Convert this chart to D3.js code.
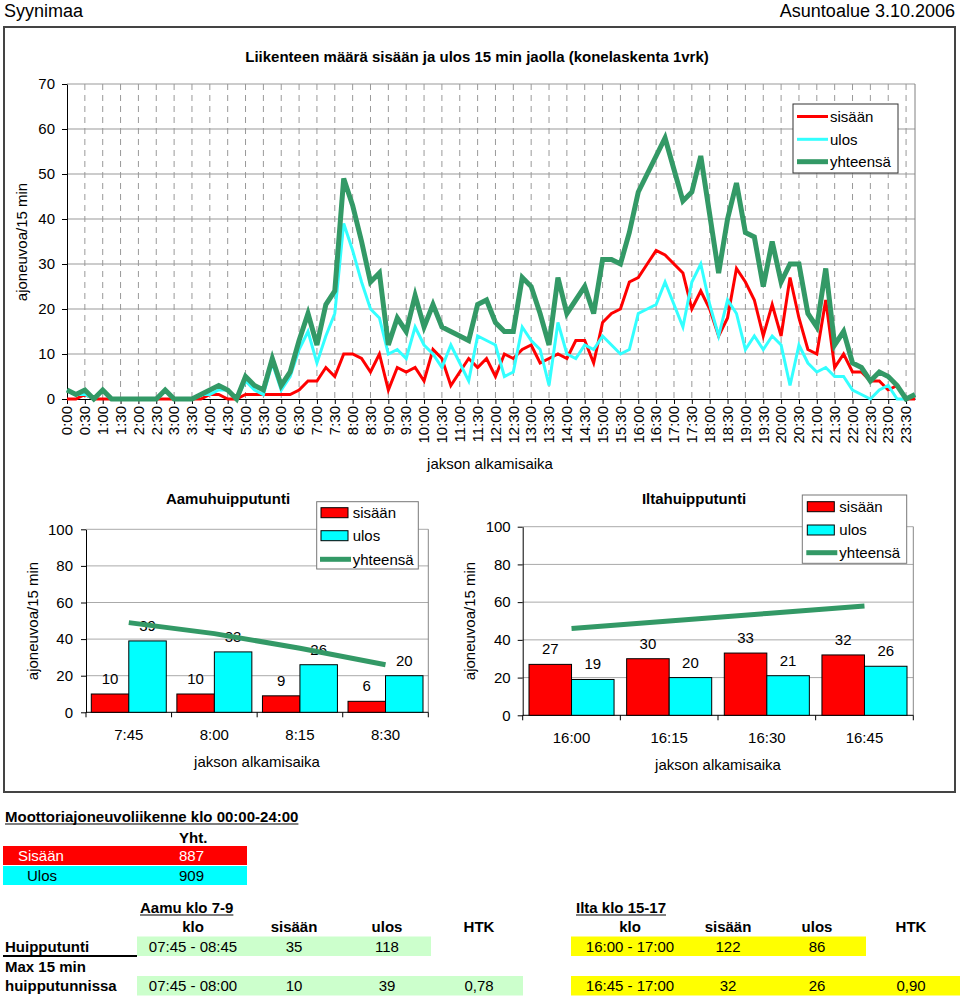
<!DOCTYPE html>
<html><head><meta charset="utf-8">
<script src="https://cdn.jsdelivr.net/npm/d3@7"></script>
<style>
body{margin:0;background:#fff}
svg{display:block}
text{font-family:"Liberation Sans",Arial,sans-serif;fill:#000}
</style>
</head><body>
<svg id="c" width="960" height="1000"></svg>
<script>
// ---------- DATA ----------
const times = ["0:00","0:15","0:30","0:45","1:00","1:15","1:30","1:45","2:00","2:15","2:30","2:45","3:00","3:15","3:30","3:45","4:00","4:15","4:30","4:45","5:00","5:15","5:30","5:45","6:00","6:15","6:30","6:45","7:00","7:15","7:30","7:45","8:00","8:15","8:30","8:45","9:00","9:15","9:30","9:45","10:00","10:15","10:30","10:45","11:00","11:15","11:30","11:45","12:00","12:15","12:30","12:45","13:00","13:15","13:30","13:45","14:00","14:15","14:30","14:45","15:00","15:15","15:30","15:45","16:00","16:15","16:30","16:45","17:00","17:15","17:30","17:45","18:00","18:15","18:30","18:45","19:00","19:15","19:30","19:45","20:00","20:15","20:30","20:45","21:00","21:15","21:30","21:45","22:00","22:15","22:30","22:45","23:00","23:15","23:30","23:45"];
const sisaan = [0,0,1,0,0,0,0,0,0,0,0,0,0,0,0,0,1,1,0,0, 1,1,1,1,1,1,2,4,4,7,5, 10,10,9,6,10,2, 7,6,7,4,11,9,3,6,9,7,9,5,10,9,11,12,8,9,10,9, 13,13,8,17,19,20,26, 27,30,33,32, 30,28,20,24,20,14,18,29, 26,22,14,21,14,27,18,11,10,22,7,10,6,6,4,4,2,3,0,0];
const ulos = [2,1,1,0,2,0,0,0,0,0,0,2,0,0,0,1,1,2,2,0, 4,2,1,8,2,5,11,15,8,14,19, 39,33,26,20,18,10, 11,9,16,12,10,7,12,8,4,14,13,12,5,6,16,13,11,3,17,10, 9,12,11,14,12,10,11, 19,20,21,26, 21,16,26,30,21,14,22,19, 11,14,11,14,12,3,12,8,6,7,5,5,2,1,0,2,3,0,0,1];
const yhteensa = [2,1,2,0,2,0,0,0,0,0,0,2,0,0,0,1,2,3,2,0, 5,3,2,9,3,6,13,19,12,21,24, 49,43,35,26,28,12, 18,15,23,16,21,16,15,14,13,21,22,17,15,15,27,25,19,12,27,19, 22,25,19,31,31,30,37, 46,50,54,58, 51,44,46,54,41,28,40,48, 37,36,25,35,26,30,30,19,16,29,12,15,8,7,4,6,5,3,0,1];
const mainYTicks = [0,10,20,30,40,50,60,70];

const amCats = ["7:45","8:00","8:15","8:30"];
const amSisaan = [10,10,9,6];
const amUlos = [39,33,26,20];
const amYht = [49,43,35,26];
const pmCats = ["16:00","16:15","16:30","16:45"];
const pmSisaan = [27,30,33,32];
const pmUlos = [19,20,21,26];
const pmYht = [46,50,54,58];
const barYTicks = [0,20,40,60,80,100];

const seriesNames = ["sisään","ulos","yhteensä"];
const totalLabels = ["Sisään","Ulos"];
const totalValues = ["887","909"];
const tableHeaders = ["klo","sisään","ulos","HTK"];
const amPeak = ["07:45 - 08:45","35","118",""];
const amMax = ["07:45 - 08:00","10","39","0,78"];
const pmPeak = ["16:00 - 17:00","122","86",""];
const pmMax = ["16:45 - 17:00","32","26","0,90"];

// ---------- STYLE ----------
const RED = "#ff0000", CYAN = "#00ffff", LCYAN = "#33ffff", GREEN = "#339966";
const FONT = 15;
const svg = d3.select("#c");

// header
svg.append("text").attr("x",4).attr("y",17).attr("font-size",18).text("Syynimaa");
svg.append("text").attr("x",955).attr("y",17).attr("font-size",18).attr("text-anchor","end").text("Asuntoalue 3.10.2006");

// outer frame
svg.append("rect").attr("x",4).attr("y",27).attr("width",951).attr("height",765)
  .attr("fill","none").attr("stroke","#444").attr("stroke-width",2);

// ---------- MAIN LINE CHART ----------
const L = {left:67,right:915,top:84,bottom:399};
const x = d3.scalePoint().domain(times).range([L.left,L.right]);
const y = d3.scaleLinear().domain([0,70]).range([L.bottom,L.top]);
const g = svg.append("g");

g.append("text").attr("x",477).attr("y",62).attr("text-anchor","middle")
  .attr("font-size",FONT).attr("font-weight","bold")
  .text("Liikenteen määrä sisään ja ulos 15 min jaolla (konelaskenta 1vrk)");

// horizontal grid
g.selectAll(".hg").data(mainYTicks.filter(d=>d>0)).join("line")
  .attr("x1",L.left).attr("x2",L.right).attr("y1",d=>y(d)).attr("y2",d=>y(d))
  .attr("stroke","#999").attr("stroke-width",1);
// vertical dashed grid
const halfHours = times.filter((t,i)=>i%2===0);
g.selectAll(".vg").data(halfHours.slice(1)).join("line")
  .attr("x1",d=>x(d)).attr("x2",d=>x(d)).attr("y1",L.top).attr("y2",L.bottom)
  .attr("stroke","#999").attr("stroke-dasharray","6,5").attr("stroke-width",1);
// right border
g.append("line").attr("x1",L.right).attr("x2",L.right).attr("y1",L.top).attr("y2",L.bottom)
  .attr("stroke","#808080");

// axes
const ya = g.append("g").attr("transform",`translate(${L.left},0)`)
  .call(d3.axisLeft(y).tickValues(mainYTicks).tickSize(5).tickPadding(7).tickSizeOuter(0));
ya.selectAll("text").attr("font-size",FONT).attr("font-family","Liberation Sans, Arial, sans-serif");
ya.select(".domain").attr("stroke","#000");
const xa = g.append("g").attr("transform",`translate(0,${L.bottom})`)
  .call(d3.axisBottom(x).tickValues(halfHours).tickSize(5).tickFormat("").tickSizeOuter(0));
xa.select(".domain").attr("stroke","#000");
g.selectAll(".xl").data(halfHours).join("text")
  .attr("transform",d=>`translate(${x(d)},${L.bottom+7}) rotate(-90)`)
  .attr("text-anchor","end").attr("dy","0.35em").attr("font-size",FONT).text(d=>d);

g.append("text").attr("transform","translate(22,242) rotate(-90)").attr("text-anchor","middle")
  .attr("dy","0.35em").attr("font-size",FONT).text("ajoneuvoa/15 min");
g.append("text").attr("x",490).attr("y",469).attr("text-anchor","middle").attr("font-size",FONT)
  .text("jakson alkamisaika");

// lines
const line = d3.line().x((d,i)=>x(times[i])).y(d=>y(d));
g.append("path").datum(sisaan).attr("d",line).attr("fill","none").attr("stroke",RED).attr("stroke-width",3);
g.append("path").datum(ulos).attr("d",line).attr("fill","none").attr("stroke",LCYAN).attr("stroke-width",3);
g.append("path").datum(yhteensa).attr("d",line).attr("fill","none").attr("stroke",GREEN).attr("stroke-width",5);

// legend
const lg = g.append("g");
lg.append("rect").attr("x",793).attr("y",104).attr("width",105).attr("height",69)
  .attr("fill","#fff").attr("stroke","#333");
const lcolors = [RED,LCYAN,GREEN], lwidths=[3,3,5], ly=[116.5,139.3,161.7];
seriesNames.forEach((n,i)=>{
  lg.append("line").attr("x1",797).attr("x2",828).attr("y1",ly[i]).attr("y2",ly[i])
    .attr("stroke",lcolors[i]).attr("stroke-width",lwidths[i]);
  lg.append("text").attr("x",830).attr("y",ly[i]).attr("dy","0.35em").attr("font-size",FONT).text(n);
});

// ---------- BAR CHARTS ----------
function barChart(o){
  const gg = svg.append("g");
  const xb = d3.scaleBand().domain(o.cats).range([o.left,o.right]);
  const xs = d3.scaleBand().domain(["s","u"]).range([o.margin, xb.bandwidth()-o.margin]);
  const yb = d3.scaleLinear().domain([0,100]).range([o.bottom,o.top]);
  gg.append("text").attr("x",o.titleX).attr("y",504).attr("text-anchor","middle")
    .attr("font-size",FONT).attr("font-weight","bold").text(o.title);
  gg.selectAll(".g").data(barYTicks.filter(d=>d>0)).join("line")
    .attr("x1",o.left).attr("x2",o.right).attr("y1",d=>yb(d)).attr("y2",d=>yb(d))
    .attr("stroke","#aaa");
  gg.append("line").attr("x1",o.right).attr("x2",o.right).attr("y1",o.top).attr("y2",o.bottom).attr("stroke","#888");
  const ay = gg.append("g").attr("transform",`translate(${o.left},0)`)
    .call(d3.axisLeft(yb).tickValues(barYTicks).tickSize(5).tickPadding(o.pad).tickSizeOuter(0));
  ay.selectAll("text").attr("font-size",FONT).attr("font-family","Liberation Sans, Arial, sans-serif");
  ay.select(".domain").attr("stroke","#000");
  // x axis
  gg.append("line").attr("x1",o.left).attr("x2",o.right).attr("y1",o.bottom).attr("y2",o.bottom).attr("stroke","#000");
  const bounds = o.cats.map(c=>xb(c)).concat([o.right]);
  gg.selectAll(".xt").data(bounds).join("line")
    .attr("x1",d=>d).attr("x2",d=>d).attr("y1",o.bottom).attr("y2",o.bottom+5).attr("stroke","#000");
  gg.selectAll(".xl").data(o.cats).join("text")
    .attr("x",d=>xb(d)+xb.bandwidth()/2).attr("y",o.bottom+28).attr("text-anchor","middle")
    .attr("font-size",FONT).text(d=>d);
  // bars
  o.cats.forEach((c,i)=>{
    [["s",o.s[i],RED],["u",o.u[i],CYAN]].forEach(([k,v,col])=>{
      const bx = xb(c)+xs(k);
      gg.append("rect").attr("x",bx).attr("y",yb(v)).attr("width",xs.bandwidth())
        .attr("height",o.bottom-yb(v)).attr("fill",col).attr("stroke","#000").attr("stroke-width",1);
      gg.append("text").attr("x",bx+xs.bandwidth()/2).attr("y",yb(v)-10)
        .attr("text-anchor","middle").attr("font-size",FONT).text(v);
    });
  });
  const tl = d3.line().x((d,i)=>xb(o.cats[i])+xb.bandwidth()/2).y(d=>yb(d));
  gg.append("path").datum(o.t).attr("d",tl).attr("fill","none").attr("stroke",GREEN).attr("stroke-width",5);
  // titles
  gg.append("text").attr("transform",`translate(${o.yTitleX},621) rotate(-90)`).attr("text-anchor","middle")
    .attr("dy","0.35em").attr("font-size",FONT).text("ajoneuvoa/15 min");
  gg.append("text").attr("x",o.xTitleX).attr("y",o.bottom+55).attr("text-anchor","middle")
    .attr("font-size",FONT).text("jakson alkamisaika");
  // legend
  const lb = o.leg;
  gg.append("rect").attr("x",lb.x).attr("y",lb.y).attr("width",lb.w).attr("height",lb.h)
    .attr("fill","#fff").attr("stroke","#777");
  const sw = [RED,CYAN];
  [0,1].forEach(i=>{
    gg.append("rect").attr("x",lb.sx).attr("y",lb.ys[i]-5).attr("width",27).attr("height",10)
      .attr("fill",sw[i]).attr("stroke","#000");
  });
  gg.append("line").attr("x1",lb.sx-1).attr("x2",lb.sx+30).attr("y1",lb.ys[2]).attr("y2",lb.ys[2])
    .attr("stroke",GREEN).attr("stroke-width",5);
  seriesNames.forEach((n,i)=>{
    gg.append("text").attr("x",lb.tx).attr("y",lb.ys[i]).attr("dy","0.35em").attr("font-size",FONT).text(n);
  });
}
barChart({cats:amCats,s:amSisaan,u:amUlos,t:amYht,title:"Aamuhuipputunti",titleX:228,
  left:86,right:428.3,top:529.3,bottom:712.3,margin:5.3,pad:8,yTitleX:33,xTitleX:257,
  leg:{x:316.7,y:501.7,w:101.6,h:67.3,sx:321,tx:352.7,ys:[512.7,535.7,559.3]}});
barChart({cats:pmCats,s:pmSisaan,u:pmUlos,t:pmYht,title:"Iltahuipputunti",titleX:694,
  left:522.7,right:913.3,top:526.7,bottom:715.3,margin:6.3,pad:7,yTitleX:470,xTitleX:718,
  leg:{x:802.3,y:495,w:104.4,h:68.3,sx:807.3,tx:839.3,ys:[506.7,530,552.7]}});

// ---------- TABLES ----------
const tg = svg.append("g");
function txt(xp,yp,s,opt={}){
  const t = tg.append("text").attr("x",xp).attr("y",yp).attr("font-size",FONT).text(s);
  if(opt.bold) t.attr("font-weight","bold");
  if(opt.anchor) t.attr("text-anchor",opt.anchor);
  if(opt.fill) t.style("fill",opt.fill);
  if(opt.under){
    const w = t.node().getComputedTextLength();
    const x0 = opt.anchor==="middle"? xp-w/2 : xp;
    tg.append("line").attr("x1",x0).attr("x2",x0+w).attr("y1",yp+2).attr("y2",yp+2)
      .attr("stroke","#000").attr("stroke-width",1.2);
  }
  return t;
}
txt(5,822,"Moottoriajoneuvoliikenne klo 00:00-24:00",{bold:true,under:true});
txt(179,843,"Yht.",{bold:true});
tg.append("rect").attr("x",3).attr("y",846).attr("width",244).attr("height",19).attr("fill",RED);
tg.append("rect").attr("x",3).attr("y",866).attr("width",244).attr("height",19).attr("fill",CYAN);
txt(18,860.5,totalLabels[0],{fill:"#fff"});
txt(179,860.5,totalValues[0],{fill:"#fff"});
txt(27,880.5,totalLabels[1]);
txt(179,880.5,totalValues[1]);

txt(140,913,"Aamu klo 7-9",{bold:true,under:true});
txt(576,913,"Ilta klo 15-17",{bold:true,under:true});
const lc = [193,294,387,479], rc = [630,728,817,911];
tableHeaders.forEach((h,i)=>{ txt(lc[i],932,h,{bold:true,anchor:"middle"}); txt(rc[i],932,h,{bold:true,anchor:"middle"}); });

txt(5,951.5,"Huipputunti",{bold:true});
tg.append("line").attr("x1",3).attr("x2",137).attr("y1",956).attr("y2",956).attr("stroke","#000").attr("stroke-width",2);
tg.append("rect").attr("x",137).attr("y",936.5).attr("width",294).attr("height",19.5).attr("fill","#ccffcc");
tg.append("rect").attr("x",571).attr("y",936.5).attr("width",295).attr("height",19.5).attr("fill","#ffff00");
amPeak.forEach((v,i)=>txt(lc[i],951.5,v,{anchor:"middle"}));
pmPeak.forEach((v,i)=>txt(rc[i],951.5,v,{anchor:"middle"}));

txt(5,971.5,"Max 15 min",{bold:true});
txt(5,990.5,"huipputunnissa",{bold:true});
tg.append("rect").attr("x",137).attr("y",976).attr("width",386).attr("height",19.5).attr("fill","#ccffcc");
tg.append("rect").attr("x",571).attr("y",976).attr("width",389).attr("height",19.5).attr("fill","#ffff00");
amMax.forEach((v,i)=>txt(lc[i],990.5,v,{anchor:"middle"}));
pmMax.forEach((v,i)=>txt(rc[i],990.5,v,{anchor:"middle"}));
// keep texts above rects
tg.selectAll("text").raise();
tg.selectAll("line").raise();
</script>
</body></html>
